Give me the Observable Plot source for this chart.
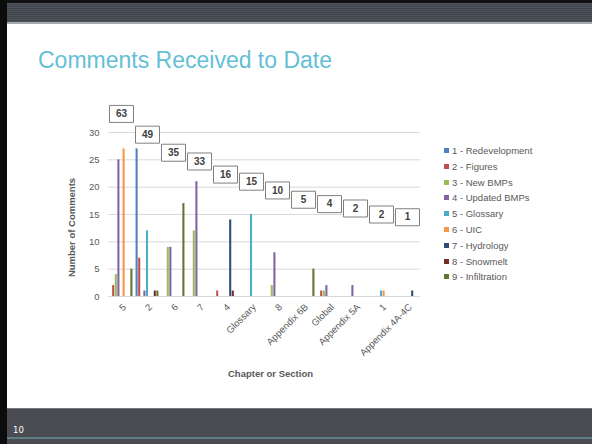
<!DOCTYPE html>
<html><head><meta charset="utf-8">
<script src="https://cdn.jsdelivr.net/npm/d3@7"></script>
<script src="https://cdn.jsdelivr.net/npm/@observablehq/plot@0.6"></script>
<style>
body{margin:0;background:#fff;font-family:"Liberation Sans",Arial,sans-serif;}
#slide{position:relative;width:592px;height:444px;overflow:hidden;background:#fff;}
#topband{position:absolute;left:0;top:0;width:592px;height:24px;
  background:linear-gradient(#111 0 3px, transparent 3px),
  repeating-linear-gradient(#3e4248 0 1px,#50565d 1px 2px);
  border-bottom:2px solid #a5a9ad;box-sizing:border-box;}
#leftbar{position:absolute;left:0;top:0;width:7px;height:444px;background:#0c0c0c;}
#title{position:absolute;left:38px;top:47px;font-size:23px;color:#64bfd6;white-space:nowrap;}
#chart{position:absolute;left:0;top:95px;}
#legend{position:absolute;left:444px;top:144px;font-size:9.5px;color:#595959;}
.li{position:absolute;left:0;height:14px;line-height:14px;white-space:nowrap;}
.sw{display:inline-block;width:5px;height:5px;margin-right:3px;vertical-align:1px;}
#bottomband{position:absolute;left:0;top:408px;width:592px;height:36px;background:#4a4c51;border-top:1.5px solid #76797d;box-sizing:border-box;}
#bottomband .line{position:absolute;left:0;top:28px;width:592px;height:2px;background:#5e7f86;}
#bottomband span{position:absolute;left:13px;top:16px;font-size:8.5px;color:#fff;font-family:"DejaVu Sans",sans-serif;}
</style></head><body>
<div id="slide">
  <div id="topband"></div>
  <div id="title">Comments Received to Date</div>
  <div id="chart"></div>
  <div id="legend"></div>
  <div id="bottomband"><div class="line"></div><span>10</span></div>
  <div id="leftbar"></div>
</div>
<script>
// ---- data ----
const categories = ["5","2","6","7","4","Glossary","8","Appendix 6B","Global","Appendix 5A","1","Appendix 4A-4C"];
const seriesNames = ["1 - Redevelopment","2 - Figures","3 - New BMPs","4 - Updated BMPs","5 - Glossary","6 - UIC","7 - Hydrology","8 - Snowmelt","9 - Infiltration"];
const seriesColors = ["#4F81BD","#C0504D","#9BBB59","#8064A2","#4BACC6","#F79646","#2C4D75","#772C2A","#5F7530"];
const redevelopment = [0,27,0,0,0,0,0,0,0,0,0,0];
const figures       = [2,7,0,0,1,0,0,0,1,0,0,0];
const newBMPs       = [4,0,9,12,0,0,2,0,1,0,0,0];
const updatedBMPs   = [25,1,9,21,0,0,8,0,2,2,0,0];
const glossary      = [0,12,0,0,0,15,0,0,0,0,1,0];
const uic           = [27,0,0,0,0,0,0,0,0,0,1,0];
const hydrology     = [0,0,0,0,14,0,0,0,0,0,0,1];
const snowmelt      = [0,1,0,0,1,0,0,0,0,0,0,0];
const infiltration  = [5,1,17,0,0,0,0,5,0,0,0,0];
const totals = [63,49,35,33,16,15,10,5,4,2,2,1];
const yTicks = [0,5,10,15,20,25,30];
// layout: heights (in comment units) of the total call-out boxes
const totalLabelLevels = [33.4,29.6,26.3,24.7,22.3,21.0,19.4,17.7,16.9,16.1,15.0,14.5];

// ---- build table ----
const seriesValues = [redevelopment,figures,newBMPs,updatedBMPs,glossary,uic,hydrology,snowmelt,infiltration];
const rows = [];
seriesValues.forEach((vals, s) => vals.forEach((v, c) => { if (v > 0) rows.push({cat: c, s, series: seriesNames[s], value: v}); }));
const labelRows = totals.map((t, c) => ({cat: c, total: t, level: totalLabelLevels[c]}));

const slot = 0.1, barW = 0.08;
const boxSymbol = {draw(ctx) { ctx.rect(-12, -8.5, 24, 17); }};

const chart = Plot.plot({
  width: 440, height: 300,
  marginLeft: 108, marginRight: 20, marginTop: 37, marginBottom: 99,
  style: {fontFamily: "Liberation Sans, Arial, sans-serif", fontSize: "9.5px", color: "#595959", background: "transparent", overflow: "visible"},
  x: {type: "linear", domain: [-0.5, 11.5]},
  y: {domain: [0, 30]},
  color: {domain: seriesNames, range: seriesColors},
  marks: [
    Plot.ruleY(yTicks, {stroke: "#d9d9d9", strokeWidth: 1}),
    Plot.rectY(rows, {
      x1: d => d.cat + (d.s - 4) * slot - barW / 2,
      x2: d => d.cat + (d.s - 4) * slot + barW / 2,
      y1: 0, y2: "value", fill: "series"
    }),
    Plot.axisY({ticks: yTicks, tickSize: 0, tickPadding: 9, label: null}),
    Plot.axisX({ticks: d3.range(categories.length), tickFormat: i => categories[i], tickRotate: -45, tickSize: 0, tickPadding: 9, dx: 3, label: null}),
    Plot.text(["Number of Comments"], {frameAnchor: "left", rotate: -90, dx: -37, dy: 13, textAnchor: "middle", lineAnchor: "middle", fontWeight: "bold", fontSize: 9.5, fill: "#595959"}),
    Plot.text(["Chapter or Section"], {frameAnchor: "bottom", dx: 6, dy: 77, textAnchor: "middle", lineAnchor: "middle", fontWeight: "bold", fontSize: 9.5, fill: "#595959"}),
    Plot.dot(labelRows, {x: "cat", y: "level", r: 5, symbol: boxSymbol, fill: "white", stroke: "#808080", strokeWidth: 1}),
    Plot.text(labelRows, {x: "cat", y: "level", text: d => String(d.total), fontWeight: "bold", fontSize: 10, fill: "#404040", lineAnchor: "middle"})
  ]
});
document.getElementById("chart").appendChild(chart);

// ---- legend ----
const legend = document.getElementById("legend");
seriesNames.forEach((name, i) => {
  const el = document.createElement("div");
  el.className = "li";
  el.style.top = (i * 15.8) + "px";
  el.innerHTML = `<span class="sw" style="background:${seriesColors[i]}"></span>${name}`;
  legend.appendChild(el);
});
</script>
</body></html>
